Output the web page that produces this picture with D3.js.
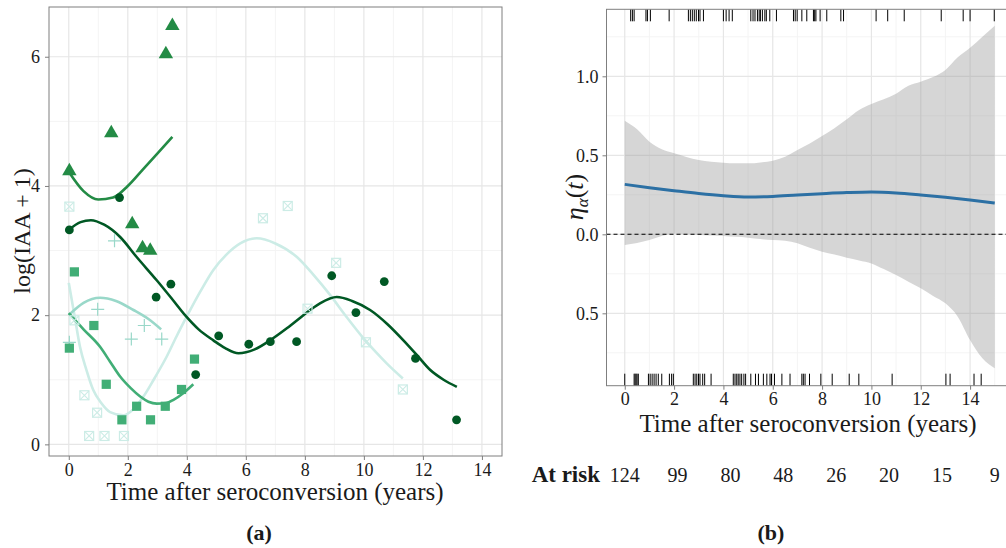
<!DOCTYPE html>
<html><head><meta charset="utf-8">
<script src="https://cdn.jsdelivr.net/npm/d3@7"></script>
<style>body{margin:0;background:#fff}svg{display:block}text{font-family:"Liberation Serif","DejaVu Serif",serif;fill:#1a1a1a}</style>
</head><body>
<script>
// ---------- Panel (a) data ----------
const subjCircle = [[0.02,3.32],[1.72,3.82],[2.96,2.28],[3.46,2.48],[4.30,1.08],[5.08,1.68],[6.10,1.55],[6.83,1.59],[7.72,1.59],[8.91,2.61],[9.73,2.04],[10.69,2.52],[11.75,1.33],[13.14,0.38]];
const fitCircle = [[0,3.32],[0.4,3.44],[0.75,3.47],[1.2,3.40],[1.74,3.21],[2.3,2.90],[2.98,2.54],[3.5,2.25],[3.94,2.00],[4.4,1.78],[4.9,1.61],[5.3,1.49],[5.75,1.41],[6.3,1.47],[6.82,1.61],[7.4,1.80],[7.95,2.00],[8.5,2.18],[9.08,2.28],[9.6,2.22],[10.21,2.08],[10.8,1.86],[11.34,1.61],[11.8,1.38],[12.25,1.15],[12.7,1.00],[13.15,0.89]];
const subjTriangle = [[0.02,4.23],[1.44,4.82],[2.15,3.41],[2.50,3.04],[2.76,3.00],[3.29,6.04],[3.51,6.48]];
const fitTriangle = [[0,4.22],[0.5,3.92],[1.0,3.79],[1.5,3.82],[2.0,4.00],[2.5,4.25],[3.0,4.50],[3.51,4.76]];
const subjSquare = [[0.19,2.67],[0.02,1.49],[0.85,1.84],[1.27,0.93],[1.80,0.38],[2.30,0.59],[2.77,0.38],[3.27,0.59],[3.82,0.85],[4.26,1.32]];
const fitSquare = [[0,2.03],[0.5,1.78],[1.06,1.51],[1.4,1.28],[1.74,1.05],[2.1,0.87],[2.42,0.74],[2.7,0.66],[2.98,0.63],[3.3,0.64],[3.55,0.69],[3.9,0.80],[4.22,0.93]];
const subjPlus = [[1.55,3.15],[0.98,2.09],[0.02,1.58],[2.12,1.63],[2.56,1.84],[3.15,1.63]];
const fitPlus = [[0,2.00],[0.5,2.19],[1.06,2.27],[1.6,2.22],[2.19,2.08],[2.7,1.94],[3.13,1.78]];
const subjXSquare = [[0.02,3.68],[0.19,1.92],[0.53,0.76],[0.69,0.13],[0.96,0.49],[1.21,0.13],[1.87,0.13],[6.58,3.50],[7.42,3.69],[8.09,2.10],[9.06,2.81],[10.07,1.58],[11.32,0.85]];
const fitXSquare = [[0,2.50],[0.2,1.98],[0.38,1.51],[0.6,1.15],[0.83,0.84],[1.1,0.64],[1.4,0.50],[1.85,0.45],[2.2,0.55],[2.53,0.74],[2.9,1.02],[3.32,1.36],[3.65,1.67],[4.0,1.98],[4.45,2.36],[4.9,2.70],[5.35,2.94],[5.81,3.11],[6.37,3.19],[7.0,3.11],[7.73,2.90],[8.3,2.62],[8.86,2.31],[9.4,1.98],[9.99,1.64],[10.4,1.43],[10.78,1.25],[11.32,1.02]];
const xTicksA = [0,2,4,6,8,10,12,14];
const yTicksA = [0,2,4,6];

// ---------- Panel (b) data ----------
const bandT =     [0,0.5,1,1.5,2,2.5,3,3.5,4,4.5,5,5.5,6,6.5,7,7.5,8,8.5,9,9.5,10,10.5,11,11.5,12,12.5,13,13.5,14,14.5,15];
const bandUpper = [0.719,0.665,0.586,0.538,0.513,0.490,0.470,0.460,0.453,0.449,0.449,0.455,0.466,0.491,0.533,0.575,0.622,0.672,0.728,0.787,0.825,0.855,0.890,0.940,0.966,0.995,1.040,1.120,1.180,1.250,1.320];
const bandLower = [-0.068,-0.055,-0.036,-0.011,0.003,0.000,-0.004,-0.008,-0.011,-0.016,-0.021,-0.030,-0.036,-0.040,-0.057,-0.085,-0.110,-0.128,-0.148,-0.165,-0.184,-0.220,-0.258,-0.300,-0.342,-0.390,-0.437,-0.521,-0.669,-0.785,-0.848];
const estT =   [0,1,2,3,4,5,6,7,8,9,10,11,12,13,14,15];
const estVal = [0.316,0.295,0.276,0.258,0.244,0.236,0.240,0.249,0.257,0.264,0.268,0.262,0.249,0.234,0.217,0.198];
const rugTop = [0.24,0.31,0.38,0.86,0.92,1.04,1.80,2.58,2.66,2.74,2.82,2.90,2.99,3.05,3.19,4.00,4.11,4.23,4.36,5.11,5.20,5.28,5.38,5.45,5.50,5.58,5.68,5.74,5.88,6.15,6.84,6.91,6.99,7.18,7.38,7.65,7.70,7.75,7.92,8.19,8.76,8.87,10.19,10.66,11.33,12.83,13.72,14.00,14.98];
const rugBottom = [0.0,0.38,0.42,0.46,0.50,0.55,0.96,1.03,1.11,1.19,1.27,1.36,1.50,1.81,1.90,1.97,2.78,2.85,2.92,2.99,3.05,3.16,3.24,3.50,4.40,4.47,4.54,4.60,4.67,4.74,4.83,4.90,5.11,5.30,5.42,5.62,5.76,5.89,5.95,6.07,6.37,6.70,7.18,7.24,7.31,7.49,7.95,8.41,9.10,9.49,10.84,13.02,13.19,14.16,14.45];
const xTicksB = [0,2,4,6,8,10,12,14];
const yTicksB = [-0.5,0,0.5,1.0];
const yTickLabelsB = ["0.5","0.0","0.5","1.0"];
const atRisk = [124,99,80,48,26,20,15,9];

const W = 1006, H = 548;
const svg = d3.select("body").append("svg").attr("width",W).attr("height",H);
const majorGrid = "#e6e6e6", minorGrid = "#f4f4f4", borderCol = "#7f7f7f";

function styleAxis(a){
  a.attr("font-family",null).attr("font-size",null);
  a.select(".domain").remove();
  a.selectAll("line").attr("stroke",borderCol);
  a.selectAll("text").style("font-size","18px").attr("fill","#1a1a1a");
}
function grid(g, x, y, mx, my, Mx, My){
  const [x0,x1] = x.range(), [y0,y1] = y.range();
  g.selectAll(null).data(mx).join("line").attr("x1",d=>x(d)).attr("x2",d=>x(d)).attr("y1",y0).attr("y2",y1).attr("stroke",minorGrid).attr("stroke-width",1);
  g.selectAll(null).data(my).join("line").attr("y1",d=>y(d)).attr("y2",d=>y(d)).attr("x1",x0).attr("x2",x1).attr("stroke",minorGrid).attr("stroke-width",1);
  g.selectAll(null).data(Mx).join("line").attr("x1",d=>x(d)).attr("x2",d=>x(d)).attr("y1",y0).attr("y2",y1).attr("stroke",majorGrid).attr("stroke-width",1.2);
  g.selectAll(null).data(My).join("line").attr("y1",d=>y(d)).attr("y2",d=>y(d)).attr("x1",x0).attr("x2",x1).attr("stroke",majorGrid).attr("stroke-width",1.2);
}

// ======== Panel (a) ========
const xA = d3.scaleLinear().domain([-0.67,14.68]).range([49,502]);
const yA = d3.scaleLinear().domain([-0.18,6.77]).range([456,7]);
const gA = svg.append("g");
grid(gA, xA, yA, d3.range(1,15,2), [1,3,5], xTicksA, yTicksA);

const lineA = d3.line().x(d=>xA(d[0])).y(d=>yA(d[1])).curve(d3.curveMonotoneX);
const cXS = "#ccece6", cPlus = "#99d8c9", cSq = "#41ae76", cTri = "#238b45", cCirc = "#005824";
[[fitXSquare,cXS],[fitPlus,cPlus],[fitSquare,cSq],[fitTriangle,cTri],[fitCircle,cCirc]].forEach(([d,c])=>{
  gA.append("path").datum(d).attr("d",lineA).attr("fill","none").attr("stroke",c).attr("stroke-width",2.6);
});
const xs = gA.selectAll(null).data(subjXSquare).join("g").attr("transform",d=>`translate(${xA(d[0])},${yA(d[1])})`);
xs.append("rect").attr("x",-4.5).attr("y",-4.5).attr("width",9).attr("height",9).attr("fill","none").attr("stroke",cXS).attr("stroke-width",1.2);
xs.append("path").attr("d","M-4.5,-4.5L4.5,4.5M-4.5,4.5L4.5,-4.5").attr("stroke",cXS).attr("stroke-width",1.1);
gA.selectAll(null).data(subjPlus).join("path").attr("transform",d=>`translate(${xA(d[0])},${yA(d[1])})`).attr("d","M-6.5,0L6.5,0M0,-6.5L0,6.5").attr("stroke",cPlus).attr("stroke-width",1.2);
gA.selectAll(null).data(subjSquare).join("rect").attr("x",d=>xA(d[0])-4.6).attr("y",d=>yA(d[1])-4.6).attr("width",9.2).attr("height",9.2).attr("fill",cSq);
gA.selectAll(null).data(subjTriangle).join("path").attr("transform",d=>`translate(${xA(d[0])},${yA(d[1])})`).attr("d",d3.symbol(d3.symbolTriangle,90)()).attr("fill",cTri);
gA.selectAll(null).data(subjCircle).join("circle").attr("cx",d=>xA(d[0])).attr("cy",d=>yA(d[1])).attr("r",4.4).attr("fill",cCirc);
gA.append("rect").attr("x",xA.range()[0]).attr("y",yA.range()[1]).attr("width",xA.range()[1]-xA.range()[0]).attr("height",yA.range()[0]-yA.range()[1]).attr("fill","none").attr("stroke",borderCol).attr("stroke-width",1);
styleAxis(gA.append("g").attr("transform",`translate(0,${yA.range()[0]})`).call(d3.axisBottom(xA).tickValues(xTicksA).tickFormat(d3.format("d")).tickSize(4).tickPadding(3)));
styleAxis(gA.append("g").attr("transform",`translate(${xA.range()[0]},0)`).call(d3.axisLeft(yA).tickValues(yTicksA).tickFormat(d3.format("d")).tickSize(4).tickPadding(5)));
svg.append("text").attr("x",275).attr("y",500).attr("text-anchor","middle").style("font-size","25px").text("Time after seroconversion (years)");
svg.append("text").attr("transform","translate(30,231) rotate(-90)").attr("text-anchor","middle").style("font-size","24px").text("log(IAA + 1)");
svg.append("text").attr("x",259).attr("y",540).attr("text-anchor","middle").style("font-size","22px").style("font-weight","bold").text("(a)");

// ======== Panel (b) ========
const xB = d3.scaleLinear().domain([-0.74,15.74]).range([606.5,1013]);
const yB = d3.scaleLinear().domain([-0.958,1.424]).range([385.7,9.3]);
const gB = svg.append("g");
grid(gB, xB, yB, d3.range(1,16,2), [-0.75,-0.25,0.25,0.75,1.25], xTicksB, yTicksB);
const band = bandT.map((t,i)=>({t, lo:bandLower[i], hi:bandUpper[i]}));
gB.append("path").datum(band).attr("d",d3.area().x(d=>xB(d.t)).y0(d=>yB(d.lo)).y1(d=>yB(d.hi)).curve(d3.curveMonotoneX)).attr("fill","#999999").attr("fill-opacity",0.4);
gB.append("line").attr("x1",xB.range()[0]).attr("x2",xB.range()[1]).attr("y1",yB(0)).attr("y2",yB(0)).attr("stroke","#000").attr("stroke-width",1.1).attr("stroke-dasharray","4,3");
const est = estT.map((t,i)=>[t,estVal[i]]);
gB.append("path").datum(est).attr("d",d3.line().x(d=>xB(d[0])).y(d=>yB(d[1])).curve(d3.curveMonotoneX)).attr("fill","none").attr("stroke","#2c70a4").attr("stroke-width",3);
gB.selectAll(null).data(rugTop).join("line").attr("x1",d=>xB(d)).attr("x2",d=>xB(d)).attr("y1",yB.range()[1]).attr("y2",yB.range()[1]+12).attr("stroke","#000").attr("stroke-width",1);
gB.selectAll(null).data(rugBottom).join("line").attr("x1",d=>xB(d)).attr("x2",d=>xB(d)).attr("y1",yB.range()[0]).attr("y2",yB.range()[0]-12).attr("stroke","#000").attr("stroke-width",1);
gB.append("rect").attr("x",xB.range()[0]).attr("y",yB.range()[1]).attr("width",xB.range()[1]-xB.range()[0]).attr("height",yB.range()[0]-yB.range()[1]).attr("fill","none").attr("stroke",borderCol).attr("stroke-width",1);
styleAxis(gB.append("g").attr("transform",`translate(0,${yB.range()[0]})`).call(d3.axisBottom(xB).tickValues(xTicksB).tickFormat(d3.format("d")).tickSize(4).tickPadding(3)));
styleAxis(gB.append("g").attr("transform",`translate(${xB.range()[0]},0)`).call(d3.axisLeft(yB).tickValues(yTicksB).tickFormat((d,i)=>yTickLabelsB[i]).tickSize(4).tickPadding(4)));
svg.append("text").attr("x",808).attr("y",432).attr("text-anchor","middle").style("font-size","25px").text("Time after seroconversion (years)");
const yl = svg.append("text").attr("transform","translate(583,197) rotate(-90)").attr("text-anchor","middle").style("font-size","26px");
yl.append("tspan").style("font-style","italic").text("η");
yl.append("tspan").attr("dy",5).style("font-size","17px").style("font-style","italic").text("α");
yl.append("tspan").attr("dy",-5).text("(");
yl.append("tspan").style("font-style","italic").text("t");
yl.append("tspan").text(")");
// at risk
const riskT = atRisk.map((d,i)=>i*15/(atRisk.length-1));
svg.append("text").attr("x",600).attr("y",482).attr("text-anchor","end").style("font-size","23px").style("font-weight","bold").text("At risk");
svg.selectAll(null).data(atRisk).join("text").attr("x",(d,i)=>xB(riskT[i])).attr("y",482).attr("text-anchor","middle").style("font-size","20px").text(d=>d);
svg.append("text").attr("x",771).attr("y",540).attr("text-anchor","middle").style("font-size","22px").style("font-weight","bold").text("(b)");
</script>
</body></html>
